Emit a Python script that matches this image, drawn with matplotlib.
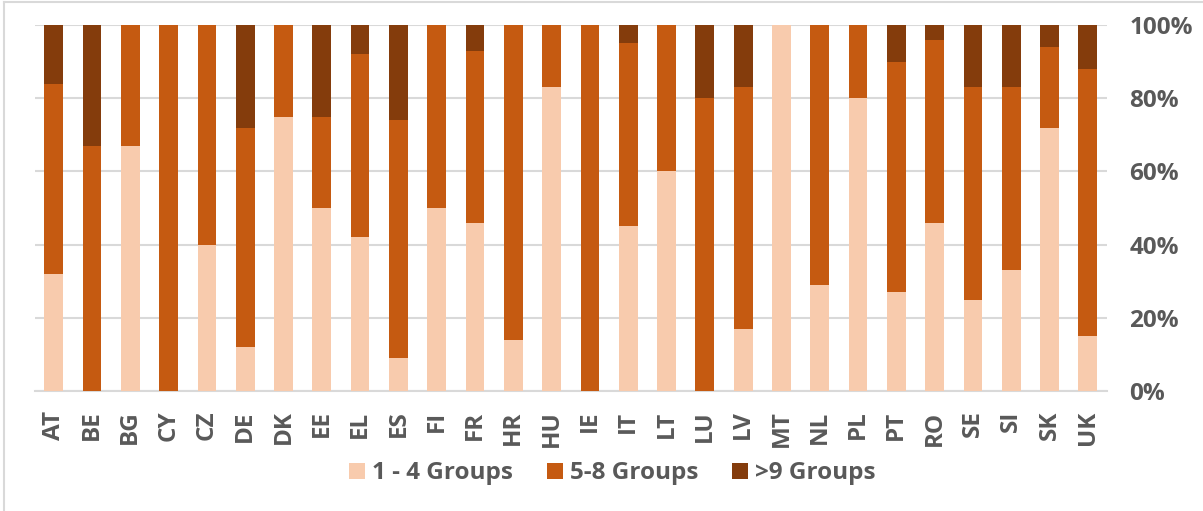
import numpy as np
import matplotlib
matplotlib.use('Agg')
import matplotlib.pyplot as plt
from matplotlib.lines import Line2D
from matplotlib.ticker import PercentFormatter

# share of countries' groups (%)
countries = ['AT', 'BE', 'BG', 'CY', 'CZ', 'DE', 'DK', 'EE', 'EL', 'ES', 'FI', 'FR', 'HR', 'HU',
             'IE', 'IT', 'LT', 'LU', 'LV', 'MT', 'NL', 'PL', 'PT', 'RO', 'SE', 'SI', 'SK', 'UK']
groups_1_4 = [32, 0, 67, 0, 40, 12, 75, 50, 42, 9, 50, 46, 14, 83,
              0, 45, 60, 0, 17, 100, 29, 80, 27, 46, 25, 33, 72, 15]
groups_5_8 = [52, 67, 33, 100, 60, 60, 25, 25, 50, 65, 50, 47, 86, 17,
              100, 50, 40, 80, 66, 0, 71, 20, 63, 50, 58, 50, 22, 73]
groups_9_plus = [16, 33, 0, 0, 0, 28, 0, 25, 8, 26, 0, 7, 0, 0,
                 0, 5, 0, 20, 17, 0, 0, 0, 10, 4, 17, 17, 6, 12]
series_names = ['1 - 4 Groups', '5-8 Groups', '>9 Groups']

colors = ['#F8CBAD', '#C55A11', '#843C0C']
text_color = '#595959'
plt.rcParams['font.family'] = ['Open Sans', 'DejaVu Sans']
fs = 17.5

fig = plt.figure(figsize=(12.03, 5.11), dpi=100)
ax = fig.add_axes([0.0287, 0.2348, 0.8915, 0.7162])

x = np.arange(len(countries))
bottom = np.zeros(len(countries))
for vals, name, col in zip([groups_1_4, groups_5_8, groups_9_plus], series_names, colors):
    vals = np.array(vals, dtype=float)
    ax.bar(x, vals, 0.49, bottom=bottom, color=col, label=name, zorder=3)
    bottom += vals

ax.set_xlim(-0.5, len(countries) - 0.5)
ax.set_ylim(0, 100)
ax.set_yticks(np.arange(0, 101, 20))
ax.yaxis.set_major_formatter(PercentFormatter(decimals=0))
ax.yaxis.tick_right()
ax.grid(axis='y', color='#D9D9D9', linewidth=1.5, zorder=0)

ax.set_xticks(x)
ax.set_xticklabels(countries, rotation=90, va='top', ha='center')
ax.tick_params(axis='x', length=0, pad=14, labelsize=fs, labelcolor=text_color)
ax.tick_params(axis='y', length=0, pad=16, labelsize=fs, labelcolor=text_color)
for lbl in ax.get_xticklabels() + ax.get_yticklabels():
    lbl.set_fontweight('bold')

for s in ['top', 'left', 'right']:
    ax.spines[s].set_visible(False)
ax.spines['bottom'].set_color('#D9D9D9')
ax.spines['bottom'].set_linewidth(1.5)

fig.legend(loc='center', bbox_to_anchor=(0.509, 0.074), ncol=3, frameon=False,
           handlelength=0.65, handleheight=0.65, handletextpad=0.3, columnspacing=1.4,
           prop={'size': fs, 'weight': 'bold'}, labelcolor=text_color)

# chart frame (partially visible)
fig.add_artist(Line2D([4 / 1203, 4 / 1203], [0, 1 - 2 / 511], transform=fig.transFigure,
                      color='#D9D9D9', lw=1.5))
fig.add_artist(Line2D([4 / 1203, 1], [1 - 2 / 511, 1 - 2 / 511], transform=fig.transFigure,
                      color='#D9D9D9', lw=1.5))

fig.savefig('out.png', dpi=100)
